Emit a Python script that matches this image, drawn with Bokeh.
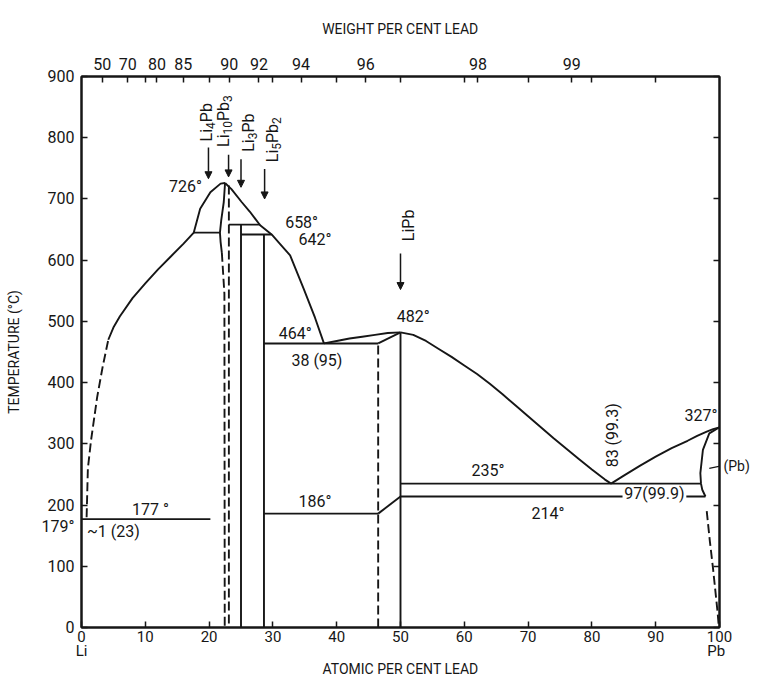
import math
from bokeh.plotting import figure
from bokeh.models import (LinearAxis, FixedTicker, Label, Arrow, NormalHead,
                          ColumnDataSource)
from bokeh.embed import file_html
from bokeh.resources import INLINE

FONT = "Roboto"
INK = "#161616"
LW = 1.9
DASH = "9 4"

# ---------------- axes / ticks ----------------
X_TICKS = list(range(0, 101, 10))
Y_TICKS = list(range(0, 901, 100))
WT_TICK_LABELS = [50, 70, 80, 85, 90, 92, 94, 96, 98, 99]   # weight % Pb on top axis
M_LI, M_PB = 6.941, 207.2
ELEMENT_POS = [0, 99.5]
ELEMENT_LABELS = ["Li", "Pb"]
LI_MELT_T, LI_MELT_LABEL = 165, "179°"        # label beside the temperature axis
PB_PHASE_T, PB_PHASE_LABEL = 263, "(Pb)"       # label beside the right edge

# ---------------- phase boundaries (atomic % Pb, temperature degC) ----------------
li_liq_dash_x = [0.8, 1.0, 1.5, 2.45, 3.3, 4.2]
li_liq_dash_t = [180, 260, 306, 376, 425, 470]
li_liq_x = [4.2, 5.0, 6.0, 8.0, 10.0, 12.0, 14.0, 16.0, 17.6, 18.6, 20.2, 21.8, 22.5]
li_liq_t = [470, 490, 508, 538, 562, 585, 606, 627, 645, 684, 711, 725, 726]
peak_liq_x = [22.5, 23.5, 25.1, 26.4, 28.0, 29.8, 31.0, 32.7, 34.8, 36.6, 38.0]
peak_liq_t = [726, 716, 695, 679, 657, 642, 628, 608, 554, 506, 464]
mid_liq_x = [38, 40, 42, 44, 46, 48, 50]
mid_liq_t = [464, 468, 472, 475, 478, 481, 482]
lipb_liq_x = [50, 52, 54, 56, 58, 60, 62, 64, 66, 68, 70, 72, 74, 76, 78, 80, 82, 83]
lipb_liq_t = [482, 478, 468, 455, 442, 428, 414, 398, 381, 363, 345, 327, 309, 292, 275, 258, 242, 235]
pb_liq_x = [83, 85, 87.5, 90, 92.5, 95, 96.5, 98, 99, 100]
pb_liq_t = [235, 248, 264, 279, 293, 305, 313, 320, 324, 327]
li4pb_bdy_x = [22.5, 22.3, 21.9, 21.7, 21.8, 22.0]
li4pb_bdy_t = [726, 695, 665, 645, 630, 612]
li4pb_dash_x = [22.0, 22.4, 22.45]
li4pb_dash_t = [612, 545, 0]
li10pb3_dash_x = [23.1, 23.1]
li10pb3_dash_t = [722, 0]
pb_solvus_x = [100, 98.4, 97.4, 97.0, 97.1, 97.3, 97.8]
pb_solvus_t = [327, 317, 290, 252, 235, 225, 214]
pb_solvus_dash_x = [98.0, 98.5, 99.0, 99.4, 99.7, 99.9]
pb_solvus_dash_t = [190, 140, 95, 55, 25, 0]

# straight solid segments: isotherms, compound lines, small diagonals
seg_x0 = [17.6, 23.1, 25.0, 28.6, 28.6, 0.0, 50.0, 50.0, 94.8, 25.0, 28.6, 50.0, 46.5, 46.5]
seg_t0 = [645, 658, 642, 464, 186, 177, 235, 214, 214, 0, 0, 0, 464, 186]
seg_x1 = [21.7, 28.0, 29.8, 46.5, 46.5, 20.2, 97.1, 84.8, 97.8, 25.0, 28.6, 50.0, 50.0, 50.0]
seg_t1 = [645, 658, 642, 464, 186, 177, 235, 214, 214, 658, 642, 482, 482, 214]
# dashed straight segments
dseg_x0 = [46.5]
dseg_t0 = [0]
dseg_x1 = [46.5]
dseg_t1 = [464]
# (Pb) leader
lead_x = [98.4, 101.8]
lead_t = [260, 267]

# ---------------- annotations ----------------
ann_text = ["726°", "658°", "642°", "464°", "38 (95)", "482°", "186°", "235°",
            "214°", "177 °", "~1 (23)", "327°", "97(99.9)"]
ann_x = [16.3, 34.5, 36.6, 33.5, 36.9, 52.0, 36.6, 63.7, 73.1, 10.8, 5.0, 97.1, 89.8]
ann_t = [721, 661, 633, 481, 436, 508, 206, 257, 187, 192, 156, 346, 219]

compounds = [
    [("Li", 0), ("4", 1), ("Pb", 0)],
    [("Li", 0), ("10", 1), ("Pb", 0), ("3", 1)],
    [("Li", 0), ("3", 1), ("Pb", 0)],
    [("Li", 0), ("5", 1), ("Pb", 0), ("2", 1)],
    [("LiPb", 0)],
]
comp_x = [19.6, 22.2, 26.1, 29.9, 51.2]     # baseline position (atomic %)
comp_t = [794, 785, 777, 760, 631]         # start of text (degC)
arr_x = [19.9, 23.05, 25.0, 28.7, 50.0]
arr_t0 = [784, 772, 765, 749, 611]
arr_t1 = [733, 736, 719, 700, 552]

# ---------------- figure ----------------
p = figure(width=752, height=679, x_range=(0, 100), y_range=(0, 900),
           output_backend="svg", toolbar_location=None,
           min_border_left=81, min_border_right=32, min_border_top=76, min_border_bottom=49)
p.xgrid.visible = False
p.ygrid.visible = False
p.outline_line_color = INK
p.outline_line_width = 2
p.background_fill_color = "white"
p.border_fill_color = "white"

PX_X = 100.0 / 639.0   # atomic % per pixel
PX_T = 900.0 / 553.0   # degC per pixel


def style_axis(ax, font_size="16px"):
    ax.axis_line_color = INK
    ax.axis_line_width = 2
    ax.major_tick_line_color = INK
    ax.major_tick_line_width = 1.5
    ax.major_tick_in = 6
    ax.major_tick_out = 0
    ax.minor_tick_line_color = INK
    ax.minor_tick_line_width = 1.5
    ax.minor_tick_in = 6
    ax.minor_tick_out = 0
    ax.major_label_text_font = FONT
    ax.major_label_text_font_size = font_size
    ax.major_label_text_color = INK
    ax.axis_label_text_font = FONT
    ax.axis_label_text_font_size = "14px"
    ax.axis_label_text_font_style = "normal"
    ax.axis_label_text_color = INK


bottom = p.xaxis[0]
bottom.ticker = FixedTicker(ticks=X_TICKS)
style_axis(bottom, "15px")
bottom.major_label_standoff = 3

# second row under the bottom axis: element names and the axis title
elements = LinearAxis(ticker=FixedTicker(ticks=ELEMENT_POS),
                      major_label_overrides=dict(zip(ELEMENT_POS, ELEMENT_LABELS)),
                      axis_label="ATOMIC PER CENT LEAD")
style_axis(elements, "15px")
elements.axis_line_color = None
elements.major_tick_line_color = None
elements.major_tick_in = 0
elements.major_label_standoff = -3
elements.axis_label_standoff = -2
p.add_layout(elements, "below")

left = p.yaxis[0]
left.ticker = FixedTicker(ticks=Y_TICKS + [LI_MELT_T], minor_ticks=Y_TICKS)
style_axis(left)
left.major_tick_in = 0
left.major_label_overrides = {LI_MELT_T: LI_MELT_LABEL}
left.major_label_standoff = 7
left.axis_label = "TEMPERATURE (°C)"
left.axis_label_standoff = 17

wt_pos = [round(100 * (w / M_PB) / (w / M_PB + (100 - w) / M_LI), 4) for w in WT_TICK_LABELS]
top = LinearAxis(ticker=FixedTicker(ticks=wt_pos, minor_ticks=X_TICKS[1:-1]),
                 major_label_overrides={pos: str(w) for pos, w in zip(wt_pos, WT_TICK_LABELS)},
                 axis_label="WEIGHT PER CENT LEAD")
style_axis(top)
top.major_label_standoff = 7
top.axis_label_standoff = 18
p.add_layout(top, "above")

right = LinearAxis(ticker=FixedTicker(ticks=[PB_PHASE_T], minor_ticks=Y_TICKS),
                   major_label_overrides={PB_PHASE_T: PB_PHASE_LABEL})
style_axis(right, "14px")
right.major_tick_in = 0
right.major_label_standoff = 4
p.add_layout(right, "right")

# ---------------- curves ----------------
solid_curves = [(li_liq_x, li_liq_t), (peak_liq_x, peak_liq_t), (mid_liq_x, mid_liq_t),
                (lipb_liq_x, lipb_liq_t), (pb_liq_x, pb_liq_t), (li4pb_bdy_x, li4pb_bdy_t),
                (pb_solvus_x, pb_solvus_t)]
dashed_curves = [(li_liq_dash_x, li_liq_dash_t), (li4pb_dash_x, li4pb_dash_t),
                 (li10pb3_dash_x, li10pb3_dash_t), (pb_solvus_dash_x, pb_solvus_dash_t)]
for xs, ts in solid_curves:
    p.line(xs, ts, line_color=INK, line_width=LW, line_join="round")
for xs, ts in dashed_curves:
    p.line(xs, ts, line_color=INK, line_width=LW, line_dash=DASH)

p.segment(x0="x0", y0="y0", x1="x1", y1="y1",
          source=ColumnDataSource(dict(x0=seg_x0, y0=seg_t0, x1=seg_x1, y1=seg_t1)),
          line_color=INK, line_width=LW)
p.segment(x0="x0", y0="y0", x1="x1", y1="y1",
          source=ColumnDataSource(dict(x0=dseg_x0, y0=dseg_t0, x1=dseg_x1, y1=dseg_t1)),
          line_color=INK, line_width=LW, line_dash=DASH)
p.add_layout(Arrow(x_start=lead_x[0], y_start=lead_t[0], x_end=lead_x[1], y_end=lead_t[1],
                   end=None, line_color=INK, line_width=1.3))

# arrows pointing to compounds
p.add_layout(Arrow(end=NormalHead(size=7, fill_color=INK, line_color=INK),
                   x_start="x", y_start="t0", x_end="x", y_end="t1",
                   source=ColumnDataSource(dict(x=arr_x, t0=arr_t0, t1=arr_t1)),
                   line_color=INK, line_width=1.5))


def label(text, x, y, size="16px", angle=0.0, align="center", baseline="middle"):
    p.add_layout(Label(x=x, y=y, text=text, text_font=FONT, text_font_size=size,
                       text_color=INK, angle=angle, text_align=align,
                       text_baseline=baseline))


for t, x, y in zip(ann_text, ann_x, ann_t):
    label(t, x, y)

label("83 (99.3)", 83.3, 314, angle=math.pi / 2)

# compound names (rotated, with subscripts)
ADV = {"L": 0.539, "i": 0.243, "P": 0.631, "b": 0.561}
for parts, bx, bt in zip(compounds, comp_x, comp_t):
    cur = bt
    for txt, sub in parts:
        size = 12 if sub else 16
        xx = bx + (4 * PX_X if sub else 0)
        label(txt, xx, cur, size=f"{size}px", angle=math.pi / 2, align="left",
              baseline="alphabetic")
        cur += sum(ADV.get(c, 0.562) for c in txt) * size * PX_T

open("out.html", "w").write(file_html(p, INLINE))
